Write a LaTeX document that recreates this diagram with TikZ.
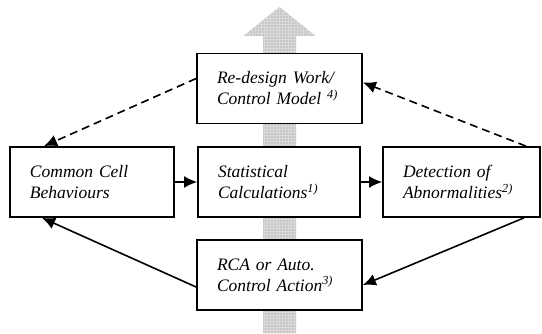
\documentclass[tikz,border=0pt]{standalone}
\usepackage{fontspec}
\setmainfont{Liberation Serif}
\usetikzlibrary{arrows.meta,patterns}
\begin{document}
\begin{tikzpicture}[x=1pt, y=1pt,
  stepbox/.style={draw, line width=1.8pt, minimum height=70pt, inner xsep=20pt, align=left,
    font=\fontsize{17.5}{21}\selectfont\itshape},
  tip/.style={-{Latex[length=13pt,width=12pt]}, line width=1.6pt},
  dashtip/.style={tip, dash pattern=on 8pt off 5pt}]
\useasboundingbox (0,0) rectangle (542,333);
\fill[black!22] (263,0) -- (263,297) -- (243.5,297) -- (279.5,326) -- (315.5,297) -- (296,297) -- (296,0) -- cycle;
\fill[pattern=grid, pattern color=white!85!black] (263,0) -- (263,297) -- (243.5,297) -- (279.5,326) -- (315.5,297) -- (296,297) -- (296,0) -- cycle;
\node[stepbox, fill=white, text width=125pt] (redesign) at (279.5,244.5) {Re-design Work/\\Control Model \textsuperscript{4)}};
\node[stepbox, fill=white, text width=124pt] (common) at (92,151) {Common Cell\\Behaviours};
\node[stepbox, fill=white, text width=122pt] (stats) at (279,151) {Statistical\\Calculations\textsuperscript{1)}};
\node[stepbox, fill=white, text width=117pt] (detect) at (461.5,151) {Detection of\\Abnormalities\textsuperscript{2)}};
\node[stepbox, fill=white, text width=125pt] (rca) at (279.5,58) {RCA or Auto.\\Control Action\textsuperscript{3)}};
\draw[tip] (common) -- (stats);
\draw[tip] (stats) -- (detect);
\draw[dashtip] ([yshift=10pt]redesign.west) -- ([xshift=35pt]common.north west);
\draw[dashtip] ([xshift=-15pt]detect.north east) -- ([yshift=6pt]redesign.east);
\draw[tip] ([xshift=-17pt]detect.south east) -- ([yshift=-10pt]rca.east);
\draw[tip] ([yshift=-12pt]rca.west) -- ([xshift=33pt]common.south west);
\end{tikzpicture}
\end{document}
